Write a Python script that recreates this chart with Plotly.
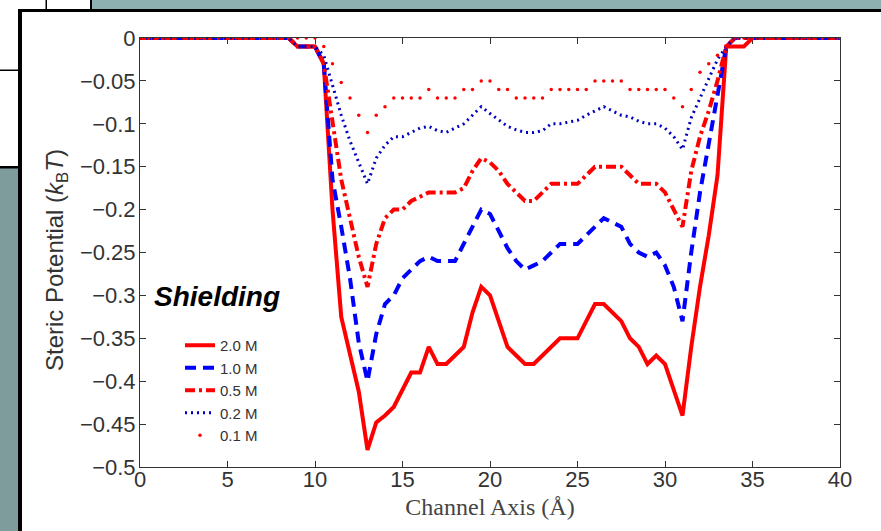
import plotly.graph_objects as go

# Channel axis positions (Å)
x_pos = [0, 0.5, 1, 1.5, 2, 2.5, 3, 3.5, 4, 4.5, 5, 5.5, 6, 6.5, 7, 7.5, 8, 8.5,
         9, 9.5, 10, 10.5, 11, 11.5, 12, 12.5, 13, 13.5, 14, 14.5, 15, 15.5, 16, 16.5,
         17, 17.5, 18, 18.5, 19, 19.5, 20, 20.5, 21, 21.5, 22, 22.5, 23, 23.5, 24, 24.5,
         25, 25.5, 26, 26.5, 27, 27.5, 28, 28.5, 29, 29.5, 30, 30.5, 31, 31.5, 32, 32.5,
         33, 33.5, 34, 34.5, 35, 35.5, 36, 36.5, 37, 37.5, 38, 38.5, 39, 39.5, 40]

zeros_left = [0, 0, 0, 0, 0, 0, 0, 0, 0, 0, 0, 0, 0, 0, 0, 0, 0, 0]          # 0 .. 8.5
zeros_right = [0, 0, 0, 0, 0, 0, 0, 0, 0, 0, 0]                            # 35 .. 40

m20_mid = [-0.01, -0.01, -0.01, -0.03, -0.20, -0.325, -0.367, -0.412, -0.48, -0.448,
           -0.44, -0.43, -0.41, -0.39, -0.39, -0.36, -0.38, -0.38, -0.37, -0.36,
           -0.32, -0.29, -0.30, -0.33, -0.36, -0.37, -0.38, -0.38, -0.37, -0.36,
           -0.35, -0.35, -0.35, -0.33, -0.31, -0.31, -0.32, -0.33, -0.35, -0.36,
           -0.38, -0.37, -0.38, -0.41, -0.44, -0.36, -0.29, -0.23, -0.16, -0.01,
           -0.01, -0.01]                                                     # 9 .. 34.5
m10_mid = [-0.01, -0.01, -0.01, -0.03, -0.165, -0.22, -0.28, -0.355, -0.40, -0.345,
           -0.31, -0.30, -0.28, -0.27, -0.26, -0.255, -0.26, -0.26, -0.26, -0.24,
           -0.22, -0.20, -0.205, -0.225, -0.245, -0.26, -0.27, -0.265, -0.26, -0.25,
           -0.24, -0.24, -0.24, -0.23, -0.22, -0.21, -0.215, -0.22, -0.24, -0.25,
           -0.255, -0.25, -0.265, -0.29, -0.33, -0.25, -0.18, -0.125, -0.07, -0.01,
           0, 0]
m05_mid = [-0.01, -0.01, -0.01, -0.03, -0.10, -0.165, -0.21, -0.255, -0.29, -0.24,
           -0.21, -0.20, -0.20, -0.19, -0.185, -0.18, -0.18, -0.18, -0.18, -0.175,
           -0.155, -0.14, -0.145, -0.155, -0.17, -0.18, -0.19, -0.19, -0.18, -0.17,
           -0.17, -0.17, -0.17, -0.16, -0.15, -0.15, -0.15, -0.15, -0.16, -0.17,
           -0.17, -0.17, -0.18, -0.20, -0.22, -0.155, -0.115, -0.085, -0.05, -0.01,
           0, 0]
m02_mid = [-0.01, -0.01, -0.01, -0.02, -0.055, -0.09, -0.12, -0.145, -0.17, -0.14,
           -0.125, -0.115, -0.115, -0.11, -0.105, -0.103, -0.108, -0.11, -0.105, -0.10,
           -0.09, -0.08, -0.088, -0.095, -0.103, -0.107, -0.11, -0.11, -0.108, -0.10,
           -0.10, -0.098, -0.096, -0.09, -0.085, -0.08, -0.085, -0.09, -0.092, -0.097,
           -0.10, -0.10, -0.105, -0.115, -0.13, -0.093, -0.07, -0.048, -0.025, -0.01,
           0, 0]
m01_mid = [0, 0, 0, -0.01, -0.03, -0.052, -0.07, -0.09, -0.11, -0.09,
           -0.08, -0.07, -0.07, -0.07, -0.07, -0.06, -0.07, -0.07, -0.07, -0.06,
           -0.06, -0.05, -0.05, -0.06, -0.06, -0.07, -0.07, -0.07, -0.07, -0.06,
           -0.06, -0.06, -0.06, -0.06, -0.05, -0.05, -0.05, -0.05, -0.06, -0.06,
           -0.06, -0.06, -0.06, -0.07, -0.08, -0.06, -0.04, -0.03, -0.02, -0.01,
           0, 0]

pot_20 = zeros_left + m20_mid + zeros_right
pot_10 = zeros_left + m10_mid + zeros_right
pot_05 = zeros_left + m05_mid + zeros_right
pot_02 = zeros_left + m02_mid + zeros_right
pot_01 = zeros_left + m01_mid + zeros_right

series_names = ["2.0 M", "1.0 M", "0.5 M", "0.2 M", "0.1 M"]

x_ticks = [0, 5, 10, 15, 20, 25, 30, 35, 40]
y_ticks = [0, -0.05, -0.1, -0.15, -0.2, -0.25, -0.3, -0.35, -0.4, -0.45, -0.5]
y_tick_text = ["0", "\u22120.05", "\u22120.1", "\u22120.15", "\u22120.2", "\u22120.25",
               "\u22120.3", "\u22120.35", "\u22120.4", "\u22120.45", "\u22120.5"]

RED = "#ff0000"
BLUE = "#0000ff"
NAVY = "#0000c0"

fig = go.Figure()
fig.add_trace(go.Scatter(x=x_pos, y=pot_20, name=series_names[0], mode="lines",
                         line=dict(color=RED, width=4)))
fig.add_trace(go.Scatter(x=x_pos, y=pot_10, name=series_names[1], mode="lines",
                         line=dict(color=BLUE, width=4, dash="11px,7px")))
fig.add_trace(go.Scatter(x=x_pos, y=pot_05, name=series_names[2], mode="lines",
                         line=dict(color=RED, width=4, dash="10px,4px,3px,4px")))
fig.add_trace(go.Scatter(x=x_pos, y=pot_02, name=series_names[3], mode="lines",
                         line=dict(color=NAVY, width=3, dash="2px,4px")))
fig.add_trace(go.Scatter(x=x_pos, y=pot_01, name=series_names[4], mode="markers",
                         marker=dict(color=RED, size=3.5, line=dict(width=0))))

W, H = 881, 531
L, R, T, B = 140, 41, 38, 64
pw, ph = W - L - R, H - T - B


def px(xp):
    return (xp - L) / pw


def py(yp):
    return (H - B - yp) / ph


TEAL_TOP = "#8fb0b0"
TEAL_LEFT = "#7f9c9c"
shapes = [
    dict(type="rect", x0=px(92), x1=px(W), y0=py(0), y1=py(9), fillcolor=TEAL_TOP, line_width=0),
    dict(type="rect", x0=px(0), x1=px(18), y0=py(168), y1=py(H), fillcolor=TEAL_LEFT, line_width=0),
    dict(type="rect", x0=px(18), x1=px(W), y0=py(9), y1=py(12), fillcolor="black", line_width=0),
    dict(type="rect", x0=px(18), x1=px(22), y0=py(9), y1=py(H), fillcolor="black", line_width=0),
    dict(type="rect", x0=px(0), x1=px(18), y0=py(166), y1=py(168.5), fillcolor="black", line_width=0),
    dict(type="rect", x0=px(0), x1=px(18), y0=py(69.5), y1=py(71), fillcolor="black", line_width=0),
    dict(type="rect", x0=px(45.5), x1=px(47), y0=py(0), y1=py(9), fillcolor="black", line_width=0),
    dict(type="rect", x0=px(90), x1=px(92), y0=py(0), y1=py(9), fillcolor="black", line_width=0),
]
for s in shapes:
    s.update(xref="paper", yref="paper", layer="below")

TICKFONT = dict(family="Liberation Sans, Arial, sans-serif", size=22, color="#333333")

fig.update_layout(
    width=W, height=H,
    margin=dict(l=L, r=R, t=T, b=B, autoexpand=False),
    paper_bgcolor="white", plot_bgcolor="white",
    shapes=shapes,
    showlegend=True,
    legend=dict(x=px(180), y=py(329), xanchor="left", yanchor="top",
                bgcolor="rgba(0,0,0,0)", borderwidth=0,
                font=dict(family="Liberation Sans, Arial, sans-serif", size=15, color="#333333"),
                tracegroupgap=0, itemwidth=30),
    annotations=[
        dict(text="<b><i>Shielding</i></b>", x=px(152), y=py(296), xref="paper", yref="paper",
             xanchor="left", yanchor="middle", showarrow=False,
             font=dict(family="Liberation Sans, Arial, sans-serif", size=28, color="black")),
        dict(text="Steric Potential (<i>k</i><sub>B</sub><i>T</i>)", x=px(56), y=py(260),
             xref="paper", yref="paper", xanchor="center", yanchor="middle", showarrow=False,
             textangle=-90,
             font=dict(family="Liberation Sans, Arial, sans-serif", size=24, color="#333333")),
    ],
)

fig.update_xaxes(range=[0, 40], tickvals=x_ticks, ticks="inside", ticklen=6, tickcolor="#333333",
                 showline=True, linecolor="#333333", linewidth=1, mirror="ticks",
                 showgrid=False, zeroline=False, tickfont=TICKFONT, layer="below traces",
                 ticklabelstandoff=-7,
                 title=dict(text="Channel Axis (Å)", standoff=6,
                            font=dict(family="Liberation Serif, Times New Roman, serif", size=24,
                                      color="#444444")))
fig.update_yaxes(range=[-0.5, 0], tickvals=y_ticks, ticktext=y_tick_text, ticks="inside", ticklen=6,
                 tickcolor="#333333", showline=True, linecolor="#333333", linewidth=1, mirror="ticks",
                 showgrid=False, zeroline=False, tickfont=TICKFONT, layer="below traces",
                 ticklabelstandoff=-1)

fig.write_html("out.html")
